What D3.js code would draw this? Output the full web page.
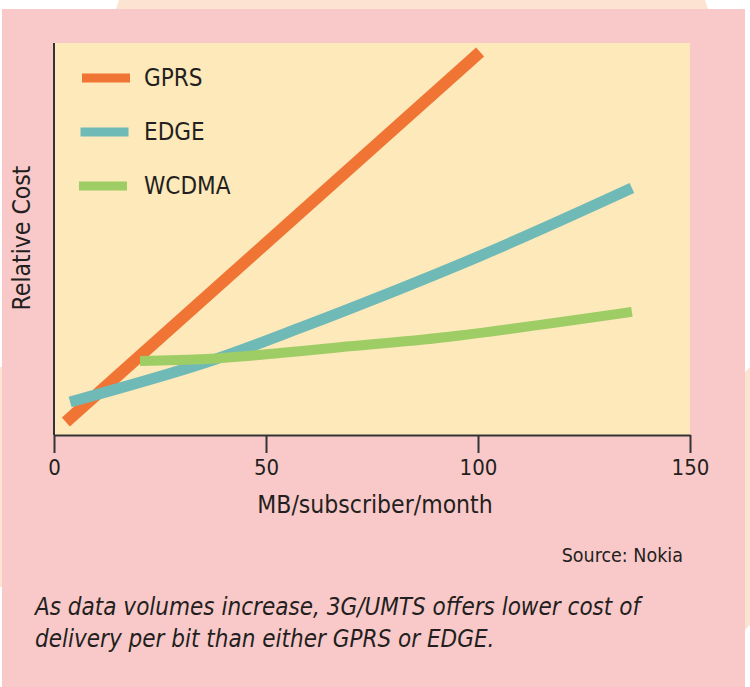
<!DOCTYPE html>
<html>
<head>
<meta charset="utf-8">
<script src="https://cdn.jsdelivr.net/npm/d3@7"></script>
<style>
  body { margin: 0; background: #fff; }
  svg text { font-family: "Liberation Sans Narrow", "DejaVu Sans Condensed", "Roboto Condensed", sans-serif; fill: #231f20; }
</style>
</head>
<body>
<div id="chart"></div>
<script>
var svgWidth = 750;
var svgHeight = 687;

// plot box inside the pink panel
var margin = { top: 43, right: 60, bottom: 252, left: 54 };
var width = svgWidth - margin.left - margin.right;
var height = svgHeight - margin.top - margin.bottom;

// data (x = MB/subscriber/month, y = relative cost 0-100)
var seriesNames = ["GPRS", "EDGE", "WCDMA"];
var seriesColors = ["#f07434", "#6fbab7", "#9ecd65"];
var gprsX = [2.8, 100.5];
var gprsY = [3.3, 97.7];
var edgeX = [3.8, 36.1, 58.0, 100.5, 136.3];
var edgeY = [8.4, 18.6, 27.3, 45.7, 63.0];
var wcdmaX = [20.3, 36.1, 53.3, 67.5, 92.7, 136.3];
var wcdmaY = [18.9, 19.4, 20.9, 22.4, 25.0, 31.4];
var xTicks = [0, 50, 100, 150];

var series = [
  { name: seriesNames[0], color: seriesColors[0], width: 12, values: gprsX.map((x, i) => [x, gprsY[i]]) },
  { name: seriesNames[1], color: seriesColors[1], width: 11, values: edgeX.map((x, i) => [x, edgeY[i]]) },
  { name: seriesNames[2], color: seriesColors[2], width: 10, values: wcdmaX.map((x, i) => [x, wcdmaY[i]]) }
];

var svg = d3.select("#chart")
  .append("svg")
  .attr("width", svgWidth)
  .attr("height", svgHeight);

// peach shape peeking out behind the panel
var peach = "#fde3d2";
svg.append("path")
  .attr("fill", peach)
  .attr("d", "M119,0 L705,0 L708,9 L116,9 Z");
svg.append("path")
  .attr("fill", peach)
  .attr("d", "M745,372 L750,367 L750,625 L745,630 Z");
svg.append("rect")
  .attr("fill", peach)
  .attr("x", 0).attr("y", 367).attr("width", 3).attr("height", 220);

// pink panel
svg.append("rect")
  .attr("x", 2).attr("y", 9)
  .attr("width", 743).attr("height", 678)
  .attr("fill", "#f9c9c9");

var chartGroup = svg.append("g")
  .attr("transform", `translate(${margin.left}, ${margin.top})`);

chartGroup.append("rect")
  .attr("width", width)
  .attr("height", height)
  .attr("fill", "#fee9bb");

var xScale = d3.scaleLinear().domain([0, 150]).range([0, width]);
var yScale = d3.scaleLinear().domain([0, 100]).range([height, 0]);

// lines
var line = d3.line()
  .x(d => xScale(d[0]))
  .y(d => yScale(d[1]))
  .curve(d3.curveCatmullRom.alpha(0.5));

chartGroup.selectAll(".series")
  .data(series)
  .enter()
  .append("path")
  .attr("class", "series")
  .attr("fill", "none")
  .attr("stroke", d => d.color)
  .attr("stroke-width", d => d.width)
  .attr("stroke-linecap", "butt")
  .attr("d", d => line(d.values));

// axes
var bottomAxis = d3.axisBottom(xScale)
  .tickValues(xTicks)
  .tickSize(18)
  .tickPadding(6)
  .tickSizeOuter(0);

var xAxis = chartGroup.append("g")
  .attr("transform", `translate(0, ${height})`)
  .call(bottomAxis);

xAxis.select(".domain").attr("stroke", "#333").attr("stroke-width", 2);
xAxis.selectAll(".tick line").attr("stroke", "#333").attr("stroke-width", 2);
xAxis.selectAll(".tick text")
  .attr("font-size", 22)
  .attr("fill", "#231f20")
  .style("font-family", "'Liberation Sans Narrow', 'DejaVu Sans Condensed', sans-serif");

chartGroup.append("line")
  .attr("x1", 0).attr("x2", 0)
  .attr("y1", 0).attr("y2", height)
  .attr("stroke", "#333")
  .attr("stroke-width", 2);

// axis titles
chartGroup.append("text")
  .attr("x", width / 2 + 3)
  .attr("y", height + 78)
  .attr("text-anchor", "middle")
  .attr("font-size", 24.5)
  .text("MB/subscriber/month");

chartGroup.append("text")
  .attr("transform", "rotate(-90)")
  .attr("x", -(height / 2) + 1)
  .attr("y", -24)
  .attr("text-anchor", "middle")
  .attr("font-size", 24.5)
  .text("Relative Cost");

// legend
var legend = chartGroup.selectAll(".legend")
  .data(series)
  .enter()
  .append("g")
  .attr("class", "legend")
  .attr("transform", (d, i) => `translate(0, ${35 + i * 54})`);

legend.append("line")
  .attr("x1", (d, i) => 28 - i * 1.5)
  .attr("x2", (d, i) => 76 - i * 1.5)
  .attr("y1", 0).attr("y2", 0)
  .attr("stroke", d => d.color)
  .attr("stroke-width", 9);

legend.append("text")
  .attr("x", 90)
  .attr("y", 8)
  .attr("font-size", 24)
  .text(d => d.name);

// source and caption
svg.append("text")
  .attr("x", 683)
  .attr("y", 562)
  .attr("text-anchor", "end")
  .attr("font-size", 19.5)
  .text("Source: Nokia");

var caption = svg.append("text")
  .attr("font-size", 24)
  .attr("font-style", "italic");

caption.append("tspan")
  .attr("x", 35).attr("y", 615)
  .text("As data volumes increase, 3G/UMTS offers lower cost of");
caption.append("tspan")
  .attr("x", 35).attr("y", 647)
  .text("delivery per bit than either GPRS or EDGE.");
</script>
</body>
</html>
